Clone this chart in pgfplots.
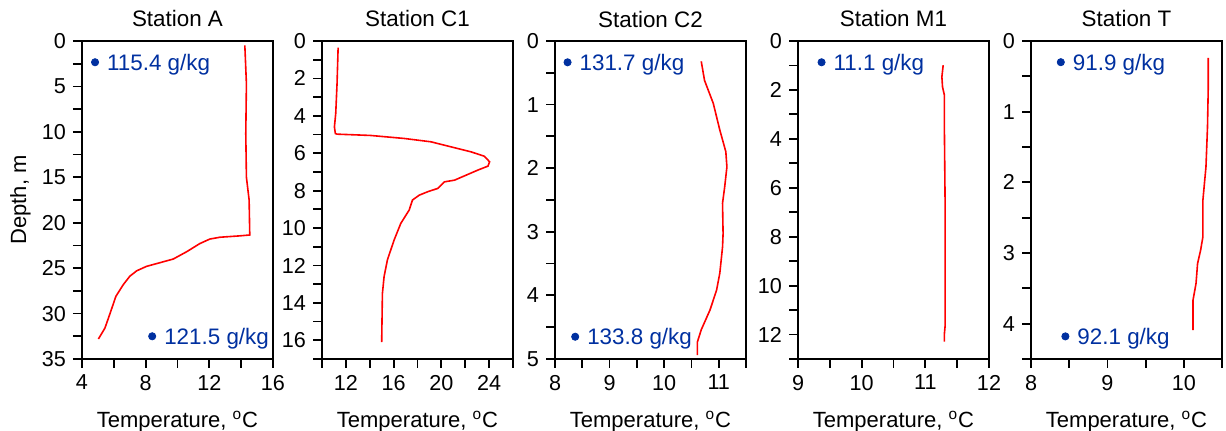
\documentclass[border=0pt]{standalone}
\usepackage{fontspec}
\setmainfont{Liberation Sans}
\usepackage{pgfplots}
\pgfplotsset{compat=1.18}
\definecolor{dotblue}{RGB}{0,48,160}

\pgfplotsset{
  panel/.style={
    scale only axis, width=95.5pt, height=159pt, anchor=south west,
    y dir=reverse, clip=false,
    axis line style={line width=0.8pt},
    tick align=outside, xtick pos=bottom, ytick pos=left,
    major tick length=4.5pt, minor tick length=4.5pt,
    every tick/.style={black, line width=0.9pt},
    every minor tick/.style={black, line width=0.9pt},
    tick label style={font=\fontsize{10.8}{12}\selectfont},
    /pgf/number format/assume math mode=true,
    xlabel={Temperature, \textsuperscript{o}C},
    label style={font=\fontsize{11}{13}\selectfont},
    xlabel style={at={(axis description cs:0.5,-0.215)}, anchor=base},
    ylabel style={at={(axis description cs:-0.293,0.5)}, anchor=base},
    every axis title/.style={at={(axis description cs:0.5,1.044)}, anchor=base,
      font=\fontsize{11.2}{13}\selectfont},
  },
  prof/.style={red, line width=0.8pt, no markers},
  salt/.style={only marks, mark=*, mark size=1.8pt, dotblue,
    nodes near coords, point meta=explicit symbolic,
    every node near coord/.append style={anchor=base west, xshift=2.5pt,
      yshift=-4pt, text=dotblue, font=\fontsize{11.2}{13}\selectfont}},
}

\begin{document}
\begin{tikzpicture}
\useasboundingbox (0,0) rectangle (613pt,215.5pt);

% Station A
\begin{axis}[panel, at={(41pt,36pt)}, title={Station A}, ylabel={Depth, m},
  xmin=4, xmax=16, ymin=0, ymax=35,
  xtick={4,8,12,16}, minor xtick={6,10,14},
  ytick={0,5,...,35}, minor ytick={2.5,7.5,...,32.5}]
\addplot[prof] coordinates {
  (14.23,0.48) (14.33,4.7) (14.29,10.2) (14.33,15) (14.5,17.5) (14.54,21.35)
  (13.9,21.45) (12.66,21.6) (12.03,21.8) (11.4,22.3) (10.57,23.2) (9.73,24.0)
  (8.69,24.5) (8.06,24.8) (7.43,25.3) (7.0,25.9) (6.6,26.8) (6.13,28.1)
  (5.76,30.0) (5.44,31.6) (5.03,32.8)
};
\addplot[salt] coordinates {(4.82,2.34) [115.4 g/kg] (8.41,32.5) [121.5 g/kg]};
\end{axis}

% Station C1
\begin{axis}[panel, at={(161pt,36pt)}, title={Station C1},
  xmin=10, xmax=26, ymin=0, ymax=17,
  xtick={12,16,20,24}, minor xtick={10,14,18,22,26},
  ytick={0,2,...,16}, minor ytick={1,3,...,17}]
\addplot[prof] coordinates {
  (11.35,0.36) (11.26,2.28) (11.15,3.88) (11.04,4.59) (11.12,4.95) (11.26,4.98)
  (14.07,5.05) (16.88,5.21) (19.13,5.39) (20.81,5.66) (22.5,5.93) (23.6,6.16)
  (24.04,6.46) (23.9,6.69) (23.06,6.9) (22.08,7.17) (21.1,7.44) (20.25,7.53)
  (19.7,7.88) (18.85,8.06) (18.15,8.24) (17.58,8.5) (17.3,9.04) (16.6,9.75)
  (16.04,10.64) (15.48,11.7) (15.2,12.6) (15.06,13.5) (15.0,16.1)
};
\end{axis}

% Station C2
\begin{axis}[panel, at={(277.5pt,36pt)}, title={Station C2},
  xmin=8, xmax=11.5, ymin=0, ymax=5,
  xtick={8,9,10,11}, minor xtick={8.5,9.5,10.5,11.5},
  ytick={0,1,...,5}, minor ytick={0.5,1.5,...,4.5}]
\addplot[prof] coordinates {
  (10.68,0.32) (10.74,0.62) (10.9,0.98) (11.02,1.4) (11.13,1.74) (11.15,1.98)
  (11.11,2.29) (11.07,2.55) (11.08,3.03) (11.07,3.24) (11.02,3.65) (10.96,3.92)
  (10.84,4.23) (10.68,4.54) (10.61,4.73) (10.61,4.94)
};
\addplot[salt] coordinates {(8.23,0.335) [131.7 g/kg] (8.37,4.65) [133.8 g/kg]};
\end{axis}

% Station M1
\begin{axis}[panel, at={(399pt,36pt)}, title={Station M1},
  xmin=9, xmax=12, ymin=0, ymax=13,
  xtick={9,10,11,12}, minor xtick={9.5,10.5,11.5},
  ytick={0,2,...,12}, minor ytick={1,3,...,13}]
\addplot[prof] coordinates {
  (11.28,0.99) (11.26,1.47) (11.27,1.88) (11.3,2.22) (11.3,3.8) (11.31,6.5)
  (11.31,11.67) (11.3,11.95) (11.3,12.29)
};
\addplot[salt] coordinates {(9.37,0.87) [11.1 g/kg]};
\end{axis}

% Station T
\begin{axis}[panel, at={(515.5pt,36pt)}, title={Station T},
  xmin=8, xmax=10.5, ymin=0, ymax=4.5,
  xtick={8,9,10}, minor xtick={8.5,9.5,10.5},
  ytick={0,1,...,4}, minor ytick={0.5,1.5,...,4.5}]
\addplot[prof] coordinates {
  (10.32,0.24) (10.32,0.65) (10.31,1.22) (10.29,1.78) (10.25,2.25) (10.25,2.77)
  (10.22,2.96) (10.18,3.15) (10.16,3.43) (10.12,3.67) (10.12,4.09)
};
\addplot[salt] coordinates {(8.39,0.3) [91.9 g/kg] (8.45,4.18) [92.1 g/kg]};
\end{axis}
\end{tikzpicture}
\end{document}
